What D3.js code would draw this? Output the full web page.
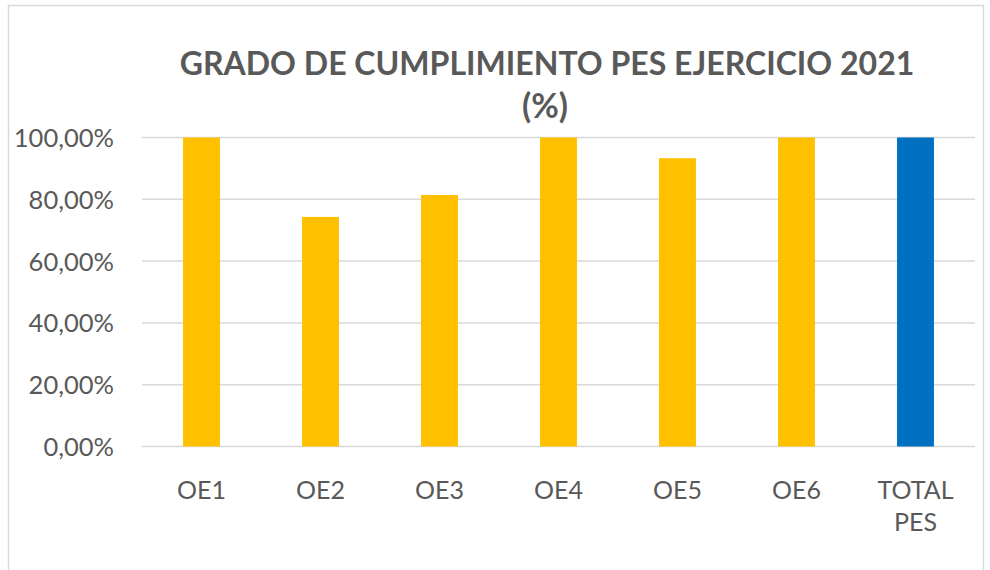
<!DOCTYPE html>
<html><head><meta charset="utf-8">
<script src="https://cdn.jsdelivr.net/npm/d3@7"></script>
<style>body{margin:0;background:#fff}svg{display:block}</style>
</head><body>
<svg id="c" width="990" height="570"></svg>
<script>
const categories = ["OE1","OE2","OE3","OE4","OE5","OE6","TOTAL PES"];
const values = [100, 74.3, 81.4, 100, 93.3, 100, 100];
const barColors = ["#FFC000","#FFC000","#FFC000","#FFC000","#FFC000","#FFC000","#0070C0"];
const yTicks = [0, 20, 40, 60, 80, 100];
const titleLines = ["GRADO DE CUMPLIMIENTO PES EJERCICIO 2021", "(%)"];

const svg = d3.select("#c");
const font = "Lato, 'Open Sans', sans-serif";
const gray = "#595959";

svg.append("rect").attr("x",8.5).attr("y",5.5).attr("width",975).attr("height",580)
  .attr("fill","#fff").attr("stroke","#d9d9d9").attr("stroke-width",1.5);

const x = d3.scaleBand().domain(categories).range([142, 975]).paddingInner(0.69).paddingOuter(0.345);
const y = d3.scaleLinear().domain([0, 100]).range([446.5, 137.5]);

// gridlines
svg.append("g").selectAll("line").data(yTicks).join("line")
  .attr("x1",142).attr("x2",975).attr("y1",d=>y(d)).attr("y2",d=>y(d))
  .attr("stroke","#d9d9d9").attr("stroke-width",1.5);

// bars
svg.append("g").selectAll("rect").data(values).join("rect")
  .attr("x",(d,i)=>x(categories[i])).attr("width",x.bandwidth())
  .attr("y",d=>y(d)).attr("height",d=>y(0)-y(d))
  .attr("fill",(d,i)=>barColors[i]);

// y axis
const yAxis = d3.axisLeft(y).tickValues(yTicks).tickSize(0).tickPadding(0)
  .tickFormat(d => d3.format(".2f")(d).replace(".", ",") + "%");
const ga = svg.append("g").attr("transform","translate(114,0)").call(yAxis);
ga.select(".domain").remove();
ga.selectAll("text").attr("font-family",font).attr("font-size",25.5).attr("fill",gray).attr("dy","0.35em");

// x labels
const gx = svg.append("g");
categories.forEach(c => {
  const words = c.split(" ");
  const t = gx.append("text").attr("x", x(c)+x.bandwidth()/2).attr("y",499)
    .attr("text-anchor","middle").attr("font-family",font).attr("font-size",25).attr("fill",gray);
  words.forEach((w,j)=> t.append("tspan").attr("x",x(c)+x.bandwidth()/2).attr("dy", j? 32:0).text(w));
});

// title
const t1 = svg.append("text").attr("x",547).attr("y",75).attr("text-anchor","middle")
  .attr("font-family",font).attr("font-weight","bold").attr("font-size",30).attr("fill",gray).text(titleLines[0]);
const w = t1.node().getComputedTextLength();
const fs = 30*735/w;
t1.attr("font-size",fs);
svg.append("text").attr("x",545).attr("y",118).attr("text-anchor","middle")
  .attr("font-family",font).attr("font-weight","bold").attr("font-size",fs*1.05).attr("fill",gray).text(titleLines[1]);
</script>
</body></html>
